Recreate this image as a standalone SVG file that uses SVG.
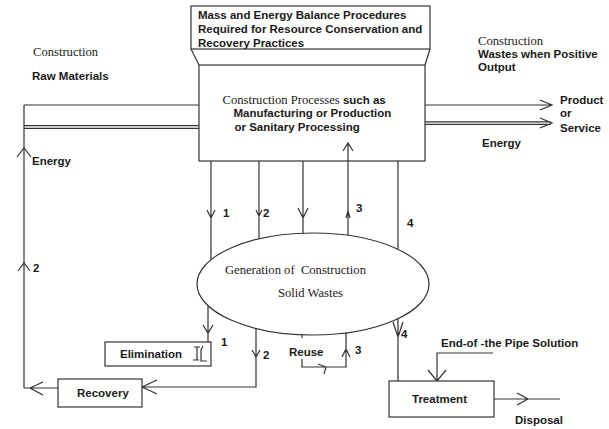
<svg xmlns="http://www.w3.org/2000/svg" width="609" height="429" viewBox="0 0 609 429">
<style>
  .ln{fill:none;stroke:#333;stroke-width:1.2}
  .bx{fill:#fff;stroke:#333;stroke-width:1.2}
  .b{font-family:"Liberation Sans",Arial,sans-serif;font-weight:bold;font-size:11.5px;fill:#1a1a1a}
  .s{font-family:"Liberation Serif","Times New Roman",serif;font-size:12.6px;fill:#1a1a1a}
</style>
<rect width="609" height="429" fill="#fff"/>

<g id="connectors">
  <!-- left inputs -->
  <path class="ln" d="M24,105 H199 M24,125.7 H199 M24,128.3 H199 M24,105 V388"/>
  <path class="ln" d="M17,157 L24,148 L31,157 M18,271 L24,263 L30,271"/>
  <path class="ln" d="M58,388 H24 M43,382 L30,388 L43,395"/>
  <!-- right outputs -->
  <path class="ln" d="M425,105 H551 M540,100 L552,105 L540,110"/>
  <path class="ln" d="M425,121.8 H551 M425,124.4 H551 M540,118 L552,123 L540,128"/>
  <!-- box to generation -->
  <path class="ln" d="M211,161 V260 M207,210 L211,218 L215,210"/>
  <path class="ln" d="M259,161 V239 M256,210 L259,216 L262,210"/>
  <path class="ln" d="M303,161 V234 M298,208 L303,218 L308,208"/>
  <path class="ln" d="M348,143 V236 M343,151 L348,143 L353,151 M346,218 L348,211 L350,218"/>
  <path class="ln" d="M398,161 V249"/>
  <!-- generation to outputs -->
  <path class="ln" d="M208,306 V342 M203,325 L208,333 L213,325"/>
  <path class="ln" d="M256,328 V387 H142 M252,350 L256,357 L260,350 M157,380 L142,387 L157,394"/>
  <path class="ln" d="M302,334 V338 M302,359 V367 H346 V333 M318,364 L326,367 L324,374 M342,357 L346,349 L350,357"/>
  <path class="ln" d="M398,319 V381 M393,322 L398,337 L403,322"/>
  <path class="ln" d="M493,353 H437 V381 M428,370 L437,381 L446,370"/>
  <path class="ln" d="M494,399 H560 M517,393 L528,399 L517,405"/>
</g>

<g id="balance-box">
  <rect class="bx" x="191" y="6" width="239" height="43"/>
  <path class="ln" d="M191,49 L199,65 M430,49 L425,65"/>
  <text class="b" x="198" y="19" font-size="11.2">Mass and Energy Balance Procedures</text>
  <text class="b" x="198" y="33" font-size="11.2">Required for Resource Conservation and</text>
  <text class="b" x="198" y="47" font-size="11.2">Recovery Practices</text>
</g>

<g id="process-box">
  <rect class="bx" x="199" y="65" width="226" height="96"/>
  <text x="222.5" y="104"><tspan class="s">Construction Processes</tspan><tspan class="b"> such as</tspan></text>
  <text class="b" x="233.5" y="117">Manufacturing or Production</text>
  <text class="b" x="234.5" y="131">or Sanitary Processing</text>
</g>
<path class="ln" d="M348,143 V161 M343,151 L348,143 L353,151"/>

<g id="generation">
  <ellipse class="bx" cx="313" cy="284" rx="116" ry="51"/>
  <text class="s" x="225" y="274" xml:space="preserve">Generation of  Construction</text>
  <text class="s" x="278" y="297">Solid Wastes</text>
</g>

<g id="elimination">
  <rect class="bx" x="105" y="342" width="106" height="24"/>
  <text class="b" x="120" y="358">Elimination</text>
  <path class="ln" d="M194,347 H200 M197,347 V360 M193,360 H199 M203,346 L201,350 V361 H207"/>
</g>

<g id="recovery">
  <rect class="bx" x="58" y="379" width="84" height="28"/>
  <text class="b" x="77" y="397">Recovery</text>
</g>

<g id="reuse">
  <text class="b" x="289" y="356">Reuse</text>
</g>

<g id="treatment">
  <rect class="bx" x="389" y="381" width="105" height="36"/>
  <text class="b" x="412" y="403">Treatment</text>
</g>

<g id="labels">
  <text class="s" x="33" y="56">Construction</text>
  <text class="b" x="32" y="80">Raw Materials</text>
  <text class="b" x="32" y="165">Energy</text>
  <text class="b" x="33" y="272">2</text>
  <text class="s" x="478" y="45">Construction</text>
  <text class="b" x="478" y="58">Wastes when Positive</text>
  <text class="b" x="478" y="71">Output</text>
  <text class="b" x="560" y="104">Product</text>
  <text class="b" x="560" y="117">or</text>
  <text class="b" x="560" y="132">Service</text>
  <text class="b" x="482" y="147">Energy</text>
  <text class="b" x="223" y="217">1</text>
  <text class="b" x="263" y="217">2</text>
  <text class="b" x="356" y="212">3</text>
  <text class="b" x="407" y="227">4</text>
  <text class="b" x="221" y="346">1</text>
  <text class="b" x="263" y="359">2</text>
  <text class="b" x="355" y="354">3</text>
  <text class="b" x="401" y="338">4</text>
  <text class="b" x="441" y="347">End-of -the Pipe Solution</text>
  <text class="b" x="515" y="424">Disposal</text>
</g>
</svg>
